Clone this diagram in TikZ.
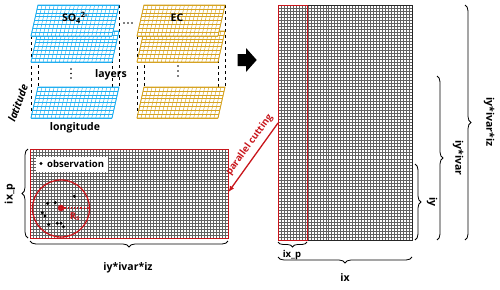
\documentclass[tikz,border=0pt]{standalone}
\usepackage{fontspec}
\setmainfont{Open Sans}
\usetikzlibrary{decorations.pathreplacing,arrows.meta}
\definecolor{pblue}{HTML}{1FAEF0}
\definecolor{porange}{HTML}{D6A322}
\definecolor{dred}{HTML}{C8151B}
\newcommand\drawplane[3]{%
  \fill[white] (#1,#2) -- (#1+81,#2) -- (#1+88,#2-31) -- (#1+7,#2-31) -- cycle;
  \foreach \i in {0,...,20} \draw[#3, line width=0.45pt] ({#1+\i*4.05},#2) -- ({#1+7+\i*4.05},{#2-31});
  \foreach \j in {0,...,8} \draw[#3, line width=0.45pt] ({#1+0.875*\j},{#2-3.875*\j}) -- ({#1+81+0.875*\j},{#2-3.875*\j});
  \draw[#3, line width=0.8pt] (#1,#2) -- (#1+81,#2) -- (#1+88,#2-31) -- (#1+7,#2-31) -- cycle;
}
\newcommand\drawstack[2]{%
  \draw[dashed, line width=0.6pt] (#1,36) -- (#1,118);
  \draw[dashed, line width=0.6pt] (#1+7,5) -- (#1+7,87);
  \draw[dashed, line width=0.6pt] (#1+88,5) -- (#1+88,87);
  \draw[dashed, line width=0.6pt] (#1+81,36) -- (#1+81,118);
  \drawplane{#1}{118}{#2}
  \drawplane{#1}{62}{#2}
  \drawplane{#1}{36}{#2}
}
\tikzset{
  lbl/.style={font=\bfseries\fontsize{10.5}{11}\selectfont, inner sep=0pt},
  small/.style={font=\bfseries\fontsize{9.5}{10}\selectfont, inner sep=0pt},
  brc/.style={decorate, decoration={brace, amplitude=6pt}, line width=0.8pt},
  gridl/.style={black!62, line width=0.3pt},
  obs/.style={fill=black, draw=none, circle, inner sep=0pt, minimum size=3.4pt},
}
\begin{document}
\begin{tikzpicture}[x=1pt,y=-1pt]
\useasboundingbox (0,0) rectangle (500,289);
% stacks
\drawstack{31}{pblue}
\drawstack{137}{porange}
\node[lbl] (so4) at (75,18) {SO\textsubscript{4}\textsuperscript{2-}};
\node[lbl] (ec) at (177,18) {EC};
\foreach \x in {124,128,132} \fill (\x,23) circle (0.9);
\foreach \y in {69,73.5,78} \fill (71,\y) circle (0.9);
\foreach \y in {66,71,76} \fill (178,\y) circle (0.9);
\node[lbl] (layers) at (111,75) {layers};
\node[lbl, font=\bfseries\itshape\fontsize{10.5}{11}\selectfont, rotate=70] (lat) at (18,103) {latitude};
\node[lbl] (lon) at (75,128) {longitude};
% block arrow
\fill[black] (237.7,54) -- (246,54) -- (246,48) -- (256.7,60) -- (246,72) -- (246,66) -- (237.7,66) -- cycle;
% big grid
\foreach \i in {0,...,45} \draw[gridl] ({278+\i*2.9778},5) -- ({278+\i*2.9778},240);
\foreach \j in {0,...,78} \draw[gridl] (278,{5+\j*3.0128}) -- (412,{5+\j*3.0128});
\node[draw=black!85, line width=0.6pt, minimum width=134pt, minimum height=235pt, inner sep=0pt, anchor=north west] (big) at (278,5) {};
\node[draw=dred, line width=1.4pt, minimum width=29pt, minimum height=235pt, inner sep=0pt, anchor=north west] (col) at (278,5) {};
% right braces
\draw[brc] (415,164) -- (415,240);
\node[lbl, rotate=-90] (iy) at (432,202) {iy};
\draw[brc] (437,76) -- (437,240);
\node[lbl, rotate=-90] (iyivar) at (458,158) {iy*ivar};
\draw[brc] (465,5) -- (465,240);
\node[lbl, rotate=-90] (iyivariz) at (489,122) {iy*ivar*iz};
% bottom braces
\draw[brc, decoration={amplitude=5pt}] (307,242) -- (278,242);
\node[small] (ixp) at (292,255) {ix\_p};
\draw[brc] (412,257) -- (278,257);
\node[lbl] (ix) at (345,278) {ix};
% bottom-left panel
\foreach \i in {0,...,66} \draw[gridl] ({30+\i*3},149) -- ({30+\i*3},238);
\foreach \j in {0,...,30} \draw[gridl] (30,{149+\j*2.9667}) -- (228,{149+\j*2.9667});
\node[draw=dred, line width=1.4pt, minimum width=198pt, minimum height=89pt, inner sep=0pt, anchor=north west] (panel) at (30,149) {};
\node[fill=white, minimum width=72pt, minimum height=15pt, inner sep=0pt, anchor=north west] (legbox) at (36,156.5) {};
\node[obs] (legdot) at (41,163.5) {};
\node[small, anchor=west] (legtxt) at (47,163.5) {observation};
\node[draw=dred, line width=1.3pt, circle, minimum size=57pt, inner sep=0pt] (circ) at (61,208.5) {};
\foreach \p [count=\k] in {{47.7,203.3},{55.3,202.7},{74.3,196.3},{42.3,212.8},{45,216},{48.7,224.5},{57.3,223.3},{61,223.2},{63.5,226.7}}
  \node[obs] (o\k) at (\p) {};
\node[fill=dred, circle, inner sep=0pt, minimum size=6.5pt] (ctr) at (61,208) {};
\node[fill=dred, circle, inner sep=0pt, minimum size=2.5pt] (redge) at (89,208) {};
\draw[dred, dotted, line width=1.2pt] (ctr) -- (redge);
\node[small, text=dred] (rc) at (75,216.5) {R\textsubscript{s}};
\draw[brc] (28,238) -- (28,149);
\node[lbl, rotate=90] (ixpl) at (10,194) {ix\_p};
\draw[brc] (228,241) -- (30,241);
\node[lbl] (bottomlbl) at (128,268) {iy*ivar*iz};
% parallel cutting
\coordinate (cutA) at (278,123);
\coordinate (cutB) at (228.5,192);
\draw[dred, line width=1.3pt, -{Latex[length=6pt,width=5pt]}] (cutA) -- (cutB);
\node[small, text=dred, rotate=54] (cut) at (249.5,145) {parallel cutting};
\end{tikzpicture}
\end{document}
